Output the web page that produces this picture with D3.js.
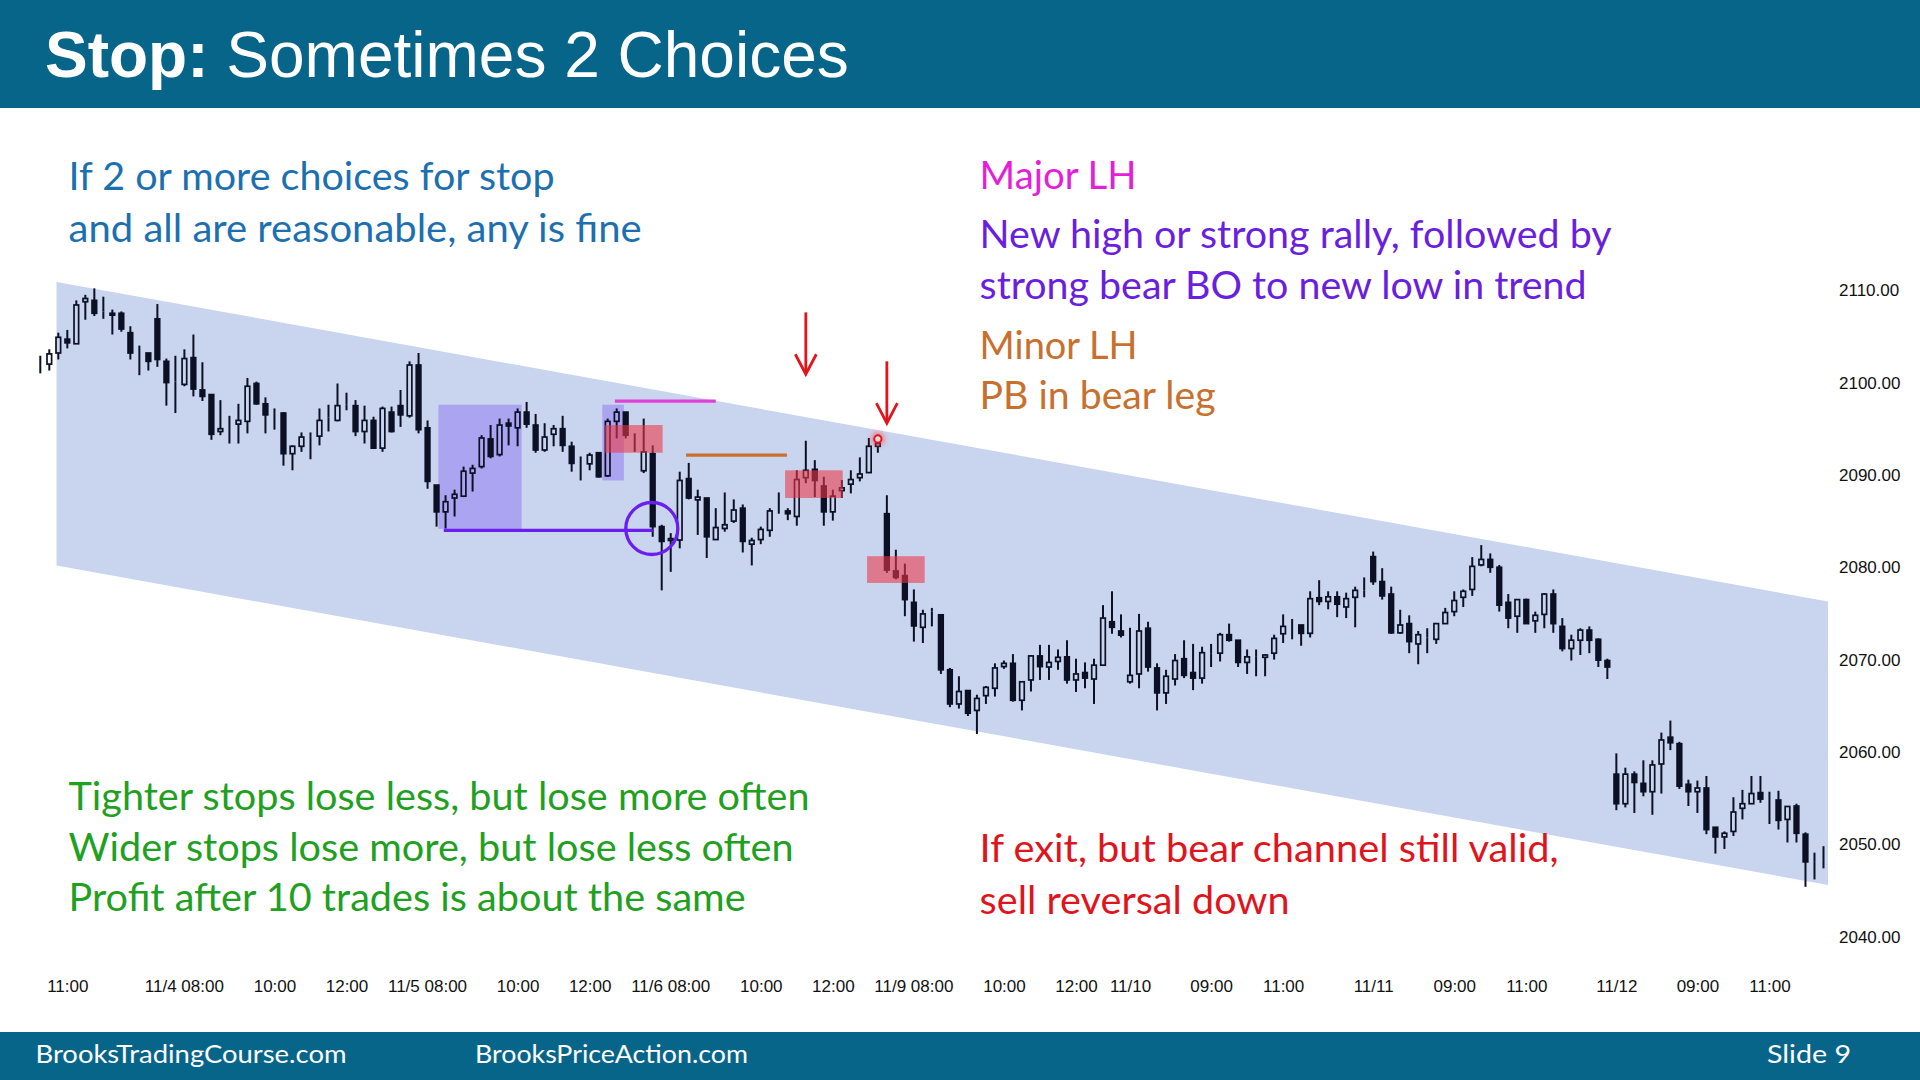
<!DOCTYPE html>
<html><head><meta charset="utf-8">
<script src="https://cdn.jsdelivr.net/npm/d3@7"></script>
<style>html,body{margin:0;padding:0;background:#fff;overflow:hidden}svg{display:block}</style>
</head><body>
<svg id="c" width="1920" height="1080"></svg>
<script>
// ---- data (15-min bars, index 0..198) ----
const opens = [2101.8,2102.0,2103.2,2104.7,2104.2,2108.75,2108.9,2107.7,2107.5,2107.5,2105.4,2103.2,2103.2,2106.9,2102.3,2100.1,2099.8,2102.7,2099.2,2098.7,2094.7,2095.3,2095.5,2095.8,2099.9,2097.7,2096.7,2096.7,2092.3,2093.1,2094.2,2094.2,2096.2,2095.9,2097.6,2097.5,2094.7,2095.9,2092.9,2096.8,2097.5,2096.4,2101.9,2095.1,2088.9,2086.0,2087.5,2087.7,2090.2,2090.9,2093.9,2092.2,2095.6,2095.1,2096.8,2095.4,2092.7,2094.4,2095.0,2093.1,2091.4,2091.2,2092.4,2089.9,2095.8,2096.8,2094.1,2090.45,2092.3,2084.4,2082.9,2082.95,2089.6,2087.3,2087.5,2083.0,2084.2,2085.0,2086.4,2082.5,2083.0,2084.0,2086.2,2086.1,2085.5,2089.7,2090.6,2088.8,2086.0,2088.3,2089.0,2089.7,2090.25,2093.1,2085.8,2079.6,2079.1,2076.2,2073.5,2075.2,2074.85,2068.9,2065.2,2066.65,2064.5,2066.1,2066.9,2069.25,2069.6,2065.6,2067.8,2070.4,2069.2,2069.8,2070.3,2067.8,2068.6,2067.9,2069.4,2074.1,2073.1,2067.6,2068.45,2073.4,2069.1,2066.4,2067.9,2070.1,2068.6,2068.0,2070.7,2070.7,2072.7,2072.1,2069.7,2070.3,2070.25,2070.7,2072.8,2073.75,2073.75,2072.85,2076.7,2076.3,2076.8,2075.7,2076.75,2077.5,2081.15,2078.45,2077.1,2072.9,2073.9,2071.7,2072.4,2072.2,2073.9,2075.2,2076.75,2077.6,2080.25,2080.85,2080.0,2076.2,2074.7,2076.5,2074.2,2074.9,2077.1,2073.6,2071.2,2072.1,2073.2,2072.2,2069.9,2057.6,2054.4,2057.6,2056.6,2055.7,2058.7,2061.6,2060.9,2056.5,2055.7,2056.1,2051.85,2050.8,2051.4,2053.9,2054.4,2055.6,2054.8,2054.8,2052.7,2054.15,2051.1,2048.1,2048.3];
const highs = [2102.9,2103.6,2105.4,2105.7,2108.9,2109.5,2110.2,2109.3,2107.9,2107.7,2106.1,2104.0,2103.2,2108.5,2102.6,2102.9,2103.6,2105.2,2102.2,2098.7,2098.1,2096.4,2097.7,2100.5,2100.1,2098.4,2097.2,2096.8,2093.2,2094.6,2094.6,2097.2,2097.6,2099.9,2098.9,2098.1,2097.5,2096.3,2097.4,2097.4,2099.2,2102.3,2103.2,2095.9,2088.9,2087.8,2088.4,2090.9,2091.1,2094.3,2095.4,2096.1,2096.1,2097.2,2097.9,2096.6,2095.6,2095.4,2096.4,2093.6,2092.0,2092.4,2092.4,2096.1,2097.2,2096.8,2094.5,2096.1,2093.2,2084.6,2083.7,2090.35,2091.3,2088.4,2087.5,2086.4,2088.1,2087.35,2086.8,2083.2,2084.4,2086.4,2088.1,2086.4,2090.5,2093.7,2091.6,2089.8,2088.4,2089.45,2090.5,2091.9,2094.0,2094.0,2087.8,2081.9,2080.4,2077.6,2075.4,2075.6,2074.85,2069.1,2068.2,2066.65,2066.2,2067.15,2069.6,2069.9,2070.6,2067.6,2070.5,2071.6,2071.6,2071.1,2072.1,2070.1,2069.7,2070.1,2075.9,2077.4,2074.9,2073.45,2074.95,2074.1,2069.6,2068.9,2070.6,2072.1,2071.7,2071.4,2071.7,2072.9,2073.9,2072.1,2071.1,2071.1,2070.6,2072.7,2074.9,2074.4,2073.75,2077.4,2078.6,2077.4,2077.4,2077.25,2077.9,2078.9,2081.7,2079.9,2077.9,2075.4,2074.8,2073.1,2073.4,2073.9,2075.6,2077.4,2077.6,2081.1,2082.4,2081.5,2080.25,2077.1,2076.5,2076.6,2075.2,2077.2,2077.6,2074.5,2072.7,2073.4,2073.6,2072.3,2070.1,2059.85,2058.3,2057.9,2059.1,2059.1,2062.1,2063.4,2061.1,2057.0,2056.9,2057.4,2051.85,2051.4,2055.1,2055.9,2057.4,2057.4,2055.7,2055.8,2054.15,2054.4,2051.3,2049.1,2049.8];
const lows = [2101.0,2101.3,2102.5,2103.7,2104.2,2106.8,2107.2,2106.9,2105.2,2105.5,2102.5,2100.8,2101.3,2101.7,2097.5,2096.7,2099.6,2098.5,2098.0,2093.8,2094.3,2093.4,2093.4,2094.5,2097.6,2094.5,2094.9,2091.0,2090.5,2092.5,2091.7,2093.2,2094.7,2095.8,2097.0,2094.2,2093.4,2092.8,2092.5,2094.6,2095.2,2096.2,2094.5,2088.5,2084.4,2084.2,2085.5,2087.6,2088.2,2090.7,2091.8,2092.0,2093.2,2093.1,2095.1,2092.4,2092.5,2093.1,2092.5,2090.35,2089.4,2090.5,2089.7,2089.8,2093.95,2093.95,2092.5,2090.2,2083.3,2077.5,2079.5,2082.05,2087.35,2083.5,2081.0,2083.0,2083.85,2084.8,2081.6,2080.2,2082.5,2083.3,2085.8,2085.1,2084.5,2089.1,2087.6,2084.5,2085.05,2087.5,2088.0,2089.3,2090.2,2092.4,2079.4,2078.7,2074.7,2071.95,2071.8,2073.6,2068.45,2064.85,2064.7,2063.9,2061.95,2065.2,2066.0,2069.0,2065.45,2064.5,2066.55,2067.8,2067.8,2068.9,2067.4,2066.5,2066.9,2065.2,2069.4,2072.8,2072.4,2067.4,2066.9,2068.7,2064.5,2065.2,2067.2,2068.0,2066.7,2067.4,2069.2,2069.8,2071.95,2069.2,2068.45,2068.2,2068.2,2070.0,2071.8,2072.2,2071.5,2072.4,2075.9,2075.45,2074.6,2074.5,2073.5,2076.75,2078.1,2076.5,2072.8,2072.8,2070.7,2069.5,2070.7,2071.7,2073.9,2074.7,2075.7,2076.9,2080.1,2079.4,2075.2,2073.4,2072.9,2073.9,2072.9,2073.4,2072.9,2070.9,2069.9,2070.5,2070.7,2069.2,2067.9,2053.7,2054.0,2053.4,2055.2,2053.2,2055.5,2060.2,2056.0,2054.15,2053.4,2051.1,2049.0,2049.5,2050.9,2052.7,2054.4,2054.5,2052.2,2051.6,2050.2,2050.2,2045.4,2046.2,2047.4];
const closes = [2101.8,2103.1,2104.9,2104.3,2108.4,2109.1,2107.5,2107.7,2107.3,2105.8,2103.2,2103.2,2102.3,2102.5,2100.0,2100.1,2102.6,2099.3,2098.5,2094.4,2095.0,2095.3,2095.9,2099.6,2097.7,2096.5,2096.7,2092.3,2093.1,2094.1,2094.2,2095.9,2096.2,2097.5,2097.6,2094.7,2095.9,2092.9,2097.2,2094.7,2096.5,2101.9,2094.9,2089.3,2086.0,2087.1,2087.9,2090.4,2090.7,2094.0,2092.0,2095.4,2095.3,2096.8,2095.5,2092.7,2094.1,2095.0,2093.2,2091.25,2091.4,2092.15,2089.8,2095.8,2096.8,2094.3,2094.1,2092.5,2084.4,2082.8,2083.1,2089.4,2087.5,2087.6,2083.3,2084.3,2084.6,2086.2,2082.8,2082.9,2084.1,2086.1,2086.2,2085.8,2089.5,2090.5,2089.4,2086.0,2087.7,2088.6,2089.5,2090.1,2093.1,2093.4,2079.7,2078.9,2076.5,2073.65,2074.95,2075.2,2068.9,2065.2,2066.55,2064.2,2065.8,2067.0,2069.1,2069.6,2065.6,2067.6,2070.4,2069.25,2069.7,2070.25,2067.8,2068.45,2068.0,2069.4,2074.5,2073.5,2072.65,2068.3,2073.1,2069.2,2066.4,2068.2,2069.9,2068.3,2068.0,2070.75,2070.7,2072.7,2072.1,2069.7,2070.3,2070.3,2070.5,2072.3,2073.6,2073.75,2072.85,2076.6,2076.3,2076.8,2076.0,2076.6,2077.5,2077.5,2078.45,2076.9,2072.9,2073.75,2071.95,2072.7,2072.4,2073.9,2075.1,2076.4,2077.4,2080.1,2080.85,2080.0,2075.9,2074.5,2076.5,2073.9,2074.8,2077.1,2073.9,2071.2,2072.1,2073.2,2072.1,2069.95,2069.2,2054.4,2057.6,2056.7,2055.7,2058.6,2061.3,2061.0,2056.3,2055.7,2056.1,2051.6,2050.8,2051.2,2053.5,2054.4,2055.5,2054.9,2054.8,2052.6,2054.1,2051.2,2048.1,2048.1,2048.3];

const xTickIdx = [3,18,26,34,45,53,61,72,80,88,99,107,115,121,130,138,148,157,165,175,184,192];
const xTickLabels = ["11:00","11/4 08:00","10:00","12:00","11/5 08:00","10:00","12:00","11/6 08:00","10:00","12:00","11/9 08:00","10:00","12:00","11/10","09:00","11:00","11/11","09:00","11:00","11/12","09:00","11:00"];
const yTicks = [2040,2050,2060,2070,2080,2090,2100,2110];

// channel (bar index, top price, bottom price)
const channelIdx = [1.8, 198.5];
const channelTop = [2110.9, 2076.3];
const channelBottom = [2080.2, 2045.6];

// annotations in data coordinates [i0, i1, pLow, pHigh]
const purpleBoxes = [[44.2, 53.45, 2084.15, 2097.6], [62.4, 64.8, 2089.4, 2097.6]];
const redBoxes = [[62.7, 69.1, 2092.4, 2095.4], [82.7, 89.1, 2087.5, 2090.5], [91.8, 98.2, 2078.3, 2081.2]];
const stopLine = [44.8, 68.0, 2084.0];
const majorLHLine = [63.8, 75.0, 2098.0];
const minorLHLine = [71.7, 82.9, 2092.15];
const stopCircle = [67.9, 2084.2];
const arrows = [[85, 2107.6, 2100.9], [94, 2102.3, 2095.6]];
const redDot = [93, 2093.9];

const title = ["Stop:", " Sometimes 2 Choices"];
const blueText = ["If 2 or more choices for stop", "and all are reasonable, any is fine"];
const magentaText = ["Major LH"];
const purpleText = ["New high or strong rally, followed by", "strong bear BO to new low in trend"];
const orangeText = ["Minor LH", "PB in bear leg"];
const greenText = ["Tighter stops lose less, but lose more often", "Wider stops lose more, but lose less often", "Profit after 10 trades is about the same"];
const redText = ["If exit, but bear channel still valid,", "sell reversal down"];
const footer = ["BrooksTradingCourse.com", "BrooksPriceAction.com", "Slide  9"];

// ---- drawing ----
const svg = d3.select("#c");
const TEAL = "#08658a", DARK = "#0b1024";
const x = d3.scaleLinear().domain([0, 198]).range([40.3, 40.3 + 198 * 9.006]);
const y = d3.scaleLinear().domain([2040, 2110]).range([936.7, 290.2]);

const defs = svg.append("defs");
defs.append("filter").attr("id", "glow").attr("x", "-100%").attr("y", "-100%").attr("width", "300%").attr("height", "300%")
  .append("feGaussianBlur").attr("stdDeviation", 2.5);

svg.append("rect").attr("width", 1920).attr("height", 1080).attr("fill", "#fff");

// header / footer
svg.append("rect").attr("x", 0).attr("y", 0).attr("width", 1920).attr("height", 108).attr("fill", TEAL);
svg.append("rect").attr("x", 0).attr("y", 1032).attr("width", 1920).attr("height", 48).attr("fill", TEAL);
const tt = svg.append("text").attr("x", 45).attr("y", 77).attr("fill", "#fff")
  .style("font-family", "'Liberation Sans', Arial, sans-serif").style("font-size", "64px");
tt.append("tspan").attr("font-weight", "bold").text(title[0]);
tt.append("tspan").text(title[1]);

const fpos = [[35.5, 311], [475, 273], [1767, 84]];
footer.forEach((t, k) => {
  svg.append("text").attr("x", fpos[k][0]).attr("y", 1063).attr("fill", "#fff")
    .attr("textLength", fpos[k][1]).attr("lengthAdjust", "spacingAndGlyphs")
    .style("font-family", "Lato, 'Open Sans', sans-serif").style("font-size", "25px").text(t);
});

// channel
const chPts = [[channelIdx[0], channelTop[0]], [channelIdx[1], channelTop[1]], [channelIdx[1], channelBottom[1]], [channelIdx[0], channelBottom[0]]];
svg.append("path").attr("d", d3.line().x(d => x(d[0])).y(d => y(d[1]))(chPts) + "Z").attr("fill", "#c9d5ef");

// purple boxes (behind candles)
svg.selectAll("rect.pbox").data(purpleBoxes).join("rect").attr("class", "pbox")
  .attr("x", d => x(d[0])).attr("width", d => x(d[1]) - x(d[0]))
  .attr("y", d => y(d[3])).attr("height", d => y(d[2]) - y(d[3]))
  .attr("fill", "rgba(135,105,245,0.45)");

// candles
const candles = d3.range(opens.length).map(i => ({ i, o: opens[i], h: highs[i], l: lows[i], c: closes[i] }));
const cg = svg.append("g").attr("stroke", DARK);
const BW = 4.6, SW = 1.7;
cg.selectAll("line.wt").data(candles).join("line")
  .attr("x1", d => x(d.i)).attr("x2", d => x(d.i))
  .attr("y1", d => y(d.h)).attr("y2", d => y(Math.max(d.o, d.c))).attr("stroke-width", 2);
cg.selectAll("line.wb").data(candles).join("line")
  .attr("x1", d => x(d.i)).attr("x2", d => x(d.i))
  .attr("y1", d => y(Math.min(d.o, d.c))).attr("y2", d => y(d.l)).attr("stroke-width", 2);
cg.selectAll("rect").data(candles).join("rect")
  .attr("x", d => x(d.i) - BW / 2).attr("width", BW)
  .attr("y", d => y(Math.max(d.o, d.c))).attr("height", d => Math.max(0, y(Math.min(d.o, d.c)) - y(Math.max(d.o, d.c))))
  .attr("fill", d => d.c < d.o ? DARK : "none").attr("stroke-width", SW);

// red boxes (on top)
svg.selectAll("rect.rbox").data(redBoxes).join("rect").attr("class", "rbox")
  .attr("x", d => x(d[0])).attr("width", d => x(d[1]) - x(d[0]))
  .attr("y", d => y(d[3])).attr("height", d => y(d[2]) - y(d[3]))
  .attr("fill", "rgba(238,55,70,0.58)");

// horizontal lines
const hl = (a, col) => svg.append("line").attr("x1", x(a[0])).attr("x2", x(a[1])).attr("y1", y(a[2])).attr("y2", y(a[2]))
  .attr("stroke", col).attr("stroke-width", 3.3);
hl(stopLine, "#6a1ef0");
hl(majorLHLine, "#e040d4");
hl(minorLHLine, "#c8702e");
svg.append("circle").attr("cx", x(stopCircle[0])).attr("cy", y(stopCircle[1])).attr("r", 26)
  .attr("fill", "none").attr("stroke", "#6a1ef0").attr("stroke-width", 3.3);

// arrows
arrows.forEach(a => {
  const ax = x(a[0]), y0 = y(a[1]), y1 = y(a[2]);
  svg.append("line").attr("x1", ax).attr("x2", ax).attr("y1", y0).attr("y2", y1 - 1).attr("stroke", "#e3141c").attr("stroke-width", 2.8);
  svg.append("path").attr("d", `M${ax - 10.5},${y1 - 20}L${ax},${y1}L${ax + 10.5},${y1 - 20}`)
    .attr("fill", "none").attr("stroke", "#e3141c").attr("stroke-width", 2.8);
});
// red dot
svg.append("circle").attr("cx", x(redDot[0])).attr("cy", y(redDot[1])).attr("r", 7).attr("fill", "rgba(255,70,70,0.55)").attr("filter", "url(#glow)");
svg.append("circle").attr("cx", x(redDot[0])).attr("cy", y(redDot[1])).attr("r", 3.6).attr("fill", "#ffd8d8").attr("stroke", "#e3141c").attr("stroke-width", 2);

// axes
const axFont = "'Liberation Sans', Arial, sans-serif";
const xAxis = d3.axisBottom(x).tickValues(xTickIdx).tickFormat((d, k) => xTickLabels[k]).tickSize(0).tickPadding(0);
const gx = svg.append("g").attr("transform", "translate(0,980)").call(xAxis);
gx.select(".domain").remove();
gx.selectAll("text").style("font-family", axFont).style("font-size", "17px").attr("fill", "#111")
  .each(function (d, k) {
    if (xTickLabels[k].includes(" ")) d3.select(this).attr("text-anchor", "end").attr("dx", 21);
  });
const yAxis = d3.axisRight(y).tickValues(yTicks).tickFormat(d3.format(".2f")).tickSize(0).tickPadding(0);
const gy = svg.append("g").attr("transform", "translate(1839,0)").call(yAxis);
gy.select(".domain").remove();
gy.selectAll("text").style("font-family", axFont).style("font-size", "17px").attr("fill", "#111");

// annotation texts
const block = (lines, x0, baselines, widths, col) => lines.forEach((t, k) => {
  svg.append("text").attr("x", x0).attr("y", baselines[k]).attr("fill", col)
    .attr("textLength", widths[k]).attr("lengthAdjust", "spacingAndGlyphs")
    .style("font-family", "Lato, 'Open Sans', sans-serif").style("font-size", "38px").text(t);
});
block(blueText, 68.6, [190, 241.5], [486, 573], "#1c70b0");
block(magentaText, 979.6, [189], [157], "#e31fd8");
block(purpleText, 979.6, [247.6, 299], [632, 607], "#6a1ee0");
block(orangeText, 979.6, [359, 409], [158, 236], "#c8702e");
block(greenText, 68.6, [809.7, 861, 911.3], [741, 725, 677], "#1fa01f");
block(redText, 979.6, [862.3, 913.7], [579, 310], "#e0141c");
</script>
</body></html>
